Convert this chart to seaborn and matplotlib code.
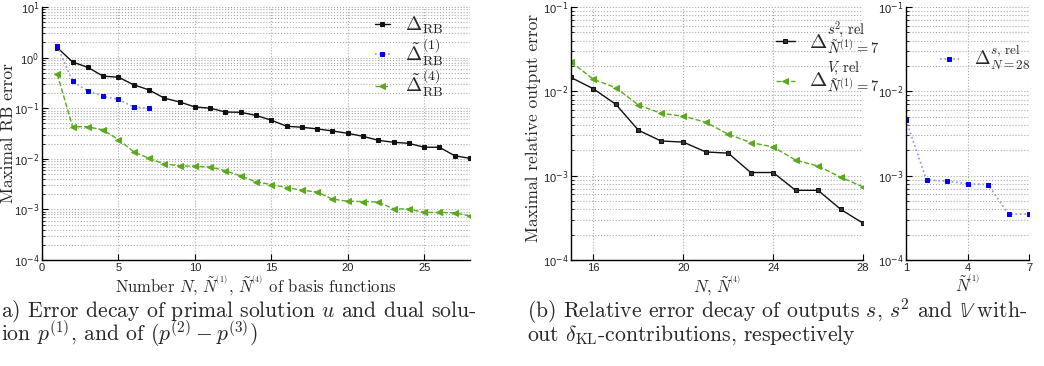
import numpy as np
import pandas as pd
import matplotlib
matplotlib.use("Agg")
import matplotlib.pyplot as plt
import seaborn as sns
from matplotlib.ticker import LogLocator, NullFormatter

sns.set_theme(style="white")
plt.rcParams["mathtext.fontset"] = "cm"
plt.rcParams["axes.unicode_minus"] = False

# ---------------- data ----------------
n_rb = list(range(1, 29))
delta_rb = [1.57, 0.82, 0.64, 0.43, 0.41, 0.29, 0.23, 0.158, 0.133, 0.106,
            0.100, 0.084, 0.083, 0.072, 0.058, 0.044, 0.042, 0.039, 0.0355, 0.0319,
            0.0278, 0.0232, 0.0212, 0.0202, 0.0169, 0.0169, 0.0115, 0.0102]
n_d1 = list(range(1, 8))
delta_d1 = [1.69, 0.34, 0.219, 0.172, 0.150, 0.105, 0.100]
n_d4 = list(range(1, 29))
delta_d4 = [0.47, 0.043, 0.043, 0.037, 0.024, 0.0138, 0.0102, 0.0079, 0.0073, 0.0071,
            0.0069, 0.0058, 0.0046, 0.0035, 0.0031, 0.0027, 0.0024, 0.0022, 0.0016, 0.00145,
            0.00143, 0.0014, 0.00102, 0.00102, 0.00087, 0.00087, 0.00086, 0.00074]

n_out = list(range(15, 29))
delta_s2 = [0.0146, 0.0107, 0.0070, 0.00346, 0.00258, 0.0025, 0.00191, 0.00185,
            0.00109, 0.00109, 0.00067, 0.00067, 0.00040, 0.000273]
delta_v = [0.0223, 0.0139, 0.0110, 0.0069, 0.0055, 0.00507, 0.0043, 0.0031,
           0.00247, 0.00219, 0.00153, 0.00130, 0.00096, 0.000736]

n_s = list(range(1, 8))
delta_s = [0.00455, 0.00089, 0.00086, 0.00080, 0.000785, 0.00035, 0.00035]

labels_a = [r"$\Delta_{\rm RB}$", r"$\tilde{\Delta}^{(1)}_{\rm RB}$", r"$\tilde{\Delta}^{(4)}_{\rm RB}$"]
labels_b = [r"$\Delta^{s^2\!,\,{\rm rel}}_{\tilde{N}^{(1)}=7}$", r"$\Delta^{V\!,\,{\rm rel}}_{\tilde{N}^{(1)}=7}$"]
label_c = r"$\Delta^{s,\,{\rm rel}}_{N=28}$"

# ---------------- styles ----------------
BLACK = "#111111"
BLUE = "#0000ee"
BLUE_LINE = "#8f8fff"
GREEN = "#5aaa20"
W, H = 1044, 366

fig = plt.figure(figsize=(W / 100, H / 100), dpi=100)


def rect(l, r, t, b):
    return [l / W, (H - b) / H, (r - l) / W, (b - t) / H]


AX1 = (42, 470, 7, 260)
AX2 = (571, 863, 7, 260)
AX3 = (906, 1029, 7, 260)
ax1 = fig.add_axes(rect(*AX1))
ax2 = fig.add_axes(rect(*AX2))
ax3 = fig.add_axes(rect(*AX3))


def ax_coords(box, px, py):
    l, r, t, b = box
    return ((px - l) / (r - l), (b - py) / (b - t))


def style_axis(ax, xlim, ylim, xticks, decades):
    ax.set_yscale("log")
    ax.set_xlim(*xlim)
    ax.set_ylim(*ylim)
    ax.set_xticks(xticks)
    ax.set_xticklabels([str(t) for t in xticks], fontfamily="Liberation Sans",
                       fontsize=8, color="#222222")
    ax.set_yticks([10.0 ** d for d in decades])
    ax.set_yticklabels([r"10$^{%d}$" % d for d in decades], fontfamily="Liberation Sans",
                       fontsize=8, color="#222222", math_fontfamily="dejavusans")
    ax.yaxis.set_minor_locator(LogLocator(base=10, subs=np.arange(2, 10), numticks=20))
    ax.yaxis.set_minor_formatter(NullFormatter())
    ax.grid(True, which="major", axis="both", color="#aaaaaa", linestyle=":", linewidth=0.8)
    ax.grid(True, which="minor", axis="y", color="#aaaaaa", linestyle=":", linewidth=0.8)
    for s in ["top", "right"]:
        ax.spines[s].set_visible(False)
    for s in ["left", "bottom"]:
        ax.spines[s].set_color("black")
        ax.spines[s].set_linewidth(1.0)
    ax.tick_params(which="both", direction="in", left=True, bottom=True,
                   color="black", pad=2)
    ax.tick_params(which="major", length=4, width=0.8)
    ax.tick_params(which="minor", length=2, width=0.6)
    ax.set_facecolor("white")


# ---------------- panel (a) ----------------
df_a1 = pd.DataFrame({"n": n_rb, "v": delta_rb})
df_a2 = pd.DataFrame({"n": n_d1, "v": delta_d1})
df_a3 = pd.DataFrame({"n": n_d4, "v": delta_d4})
sns.lineplot(data=df_a1, x="n", y="v", ax=ax1, color=BLACK, lw=1.0, marker="s",
             markersize=3.5, markeredgecolor=BLACK, label=labels_a[0])
sns.lineplot(data=df_a2, x="n", y="v", ax=ax1, color=BLUE_LINE, lw=1.2, linestyle=":",
             marker="s", markersize=3.5, markerfacecolor=BLUE, markeredgecolor=BLUE,
             label=labels_a[1])
sns.lineplot(data=df_a3, x="n", y="v", ax=ax1, color=GREEN, lw=1.0, linestyle="--",
             dashes=(3, 2.5), marker="<", markersize=4, markeredgecolor=GREEN,
             label=labels_a[2])
style_axis(ax1, (0, 28), (1e-4, 10), [0, 5, 10, 15, 20, 25], range(-4, 2))
ax1.set_xlabel(r"Number $N$, $\tilde{N}^{\!^{(1)}}$, $\tilde{N}^{\!^{(4)}}$ of basis functions",
               fontfamily="cmr10", fontsize=12, labelpad=0)
ax1.set_ylabel("Maximal RB error", fontfamily="cmr10", fontsize=12.5)
ax1.yaxis.set_label_coords(*ax_coords(AX1, 16, 133))
ax1.legend(loc="center left", frameon=False, fontsize=14, handlelength=0.75,
           handletextpad=0.8, labelspacing=0.0, borderaxespad=0.0, borderpad=0.0,
           bbox_to_anchor=ax_coords(AX1, 375, 57))

# ---------------- panel (b) ----------------
df_b1 = pd.DataFrame({"n": n_out, "v": delta_s2})
df_b2 = pd.DataFrame({"n": n_out, "v": delta_v})
sns.lineplot(data=df_b1, x="n", y="v", ax=ax2, color=BLACK, lw=1.0, marker="s",
             markersize=3.5, markerfacecolor="#333333", markeredgecolor=BLACK,
             label=labels_b[0])
sns.lineplot(data=df_b2, x="n", y="v", ax=ax2, color=GREEN, lw=1.0, linestyle="--",
             dashes=(3, 2.5), marker="<", markersize=4, markeredgecolor=GREEN,
             label=labels_b[1])
style_axis(ax2, (15, 28), (1e-4, 1e-1), [16, 20, 24, 28], range(-4, 0))
ax2.set_xlabel(r"$N$, $\tilde{N}^{\!^{(4)}}$", fontfamily="cmr10", fontsize=12, labelpad=0)
ax2.set_ylabel("Maximal relative output error", fontfamily="cmr10", fontsize=12.5)
ax2.yaxis.set_label_coords(*ax_coords(AX2, 541, 128))
ax2.legend(loc="center left", frameon=False, fontsize=15, handlelength=0.9,
           handletextpad=0.7, labelspacing=0.2, borderaxespad=0.0, borderpad=0.0,
           bbox_to_anchor=ax_coords(AX2, 776, 58))

sns.lineplot(x=n_s, y=delta_s, ax=ax3, color=BLUE_LINE, lw=1.2, linestyle=":",
             marker="s", markersize=3.5, markerfacecolor=BLUE, markeredgecolor=BLUE,
             label=label_c)
style_axis(ax3, (1, 7), (1e-4, 1e-1), [1, 4, 7], range(-4, 0))
ax3.set_xlabel(r"$\tilde{N}^{\!^{(1)}}$", fontfamily="cmr10", fontsize=12, labelpad=0)
ax3.set_ylabel("")
ax3.legend(loc="center left", frameon=False, fontsize=13.5, handlelength=1.0,
           handletextpad=0.8, borderaxespad=0.0, borderpad=0.0,
           bbox_to_anchor=ax_coords(AX3, 940, 58))

# ---------------- captions ----------------
cap_kw = dict(fontfamily="cmr10", fontsize=15.6, ha="left", va="baseline")
fig.text(1 / W, 1 - 317 / H, r"a) Error decay of primal solution $u$ and dual solu-", **cap_kw)
fig.text(1 / W, 1 - 341 / H, r"ion $p^{(1)}$, and of $(p^{(2)} - p^{(3)})$", **cap_kw)
fig.text(527 / W, 1 - 317 / H, r"(b) Relative error decay of outputs $s$, $s^2$ and $\mathbb{V}$ with-", **cap_kw)
fig.text(527 / W, 1 - 341 / H, r"out $\delta_{\rm KL}$-contributions, respectively", **cap_kw)

fig.savefig("out.png", dpi=100, facecolor="white")
